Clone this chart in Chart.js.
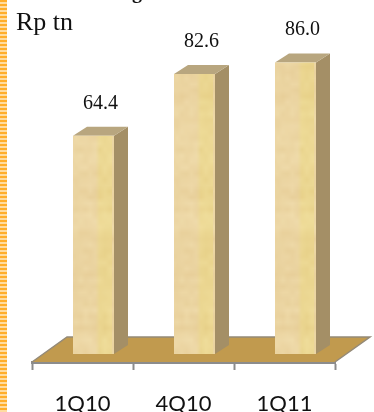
<!DOCTYPE html>
<html>
<head>
<meta charset="utf-8">
<title>Rp tn</title>
<script src="https://cdn.jsdelivr.net/npm/chart.js@4"></script>
<style>
html, body { margin: 0; padding: 0; width: 374px; height: 412px; overflow: hidden; background: #fff; }
#strip {
    position: absolute; left: 0; top: 0; width: 7px; height: 412px;
    background: repeating-linear-gradient(to bottom, #ffae2b 0, #ffae2b 2px, #ffdca0 2px, #ffdca0 4px);
}
canvas { position: absolute; left: 0; top: 0; }
</style>
</head>
<body>
<div id="strip"></div>
<canvas id="chart" width="374" height="440"></canvas>
<script>
const categories = ['1Q10', '4Q10', '1Q11'];
const values = [64.4, 82.6, 86.0];
const unitLabel = 'Rp tn';
const headingTail = 'g';

// 3D look: bars stand inset on the floor, with a receding side and top
const BAR_DX = 11, BAR_DY = -8;
const DEPTH_X = 14, DEPTH_Y = 9;
const FLOOR_DX = 35, FLOOR_DY = 25;

function hash(a, b) {
    const n = Math.sin(a * 127.1 + b * 311.7 + 0.5) * 43758.5453;
    return n - Math.floor(n);
}

// soft paper texture for the front faces: a coarse grid scaled up with
// smoothing, one category wide so the yellower band repeats on every bar
function paperTexture(ctx) {
    const grid = document.createElement('canvas');
    grid.width = 21;
    grid.height = 74;
    const g2 = grid.getContext('2d');
    for (let row = 0; row < grid.height; row++) {
        const rowTone = hash(row, 7);
        for (let col = 0; col < grid.width; col++) {
            const v = (hash(col, row) + rowTone) / 2;
            const band = col >= 18 ? 1 : 0;
            const r = 231 + Math.round(v * 9);
            const g = 206 + Math.round(v * 14) + band * 2;
            const b = 152 + Math.round(v * 20) - band * 16;
            g2.fillStyle = `rgb(${r},${g},${b})`;
            g2.fillRect(col, row, 1, 1);
        }
    }
    const tile = document.createElement('canvas');
    tile.width = 101;
    tile.height = 440;
    const t = tile.getContext('2d');
    t.imageSmoothingEnabled = true;
    t.drawImage(grid, 0, 0, tile.width, tile.height);
    return ctx.createPattern(tile, 'repeat');
}

const cubePlugin = {
    id: 'cube',
    beforeDatasetsDraw(chart) {
        const ctx = chart.ctx;
        const { left, right, bottom } = chart.chartArea;
        // floor
        ctx.save();
        ctx.beginPath();
        ctx.moveTo(left, bottom);
        ctx.lineTo(right, bottom);
        ctx.lineTo(right + FLOOR_DX, bottom - FLOOR_DY);
        ctx.lineTo(left + FLOOR_DX, bottom - FLOOR_DY);
        ctx.closePath();
        ctx.fillStyle = '#c19a4e';
        ctx.fill();
        ctx.strokeStyle = '#948a78';
        ctx.lineWidth = 1.5;
        ctx.beginPath();
        ctx.moveTo(left, bottom);
        ctx.lineTo(left + FLOOR_DX, bottom - FLOOR_DY);
        ctx.lineTo(right + FLOOR_DX, bottom - FLOOR_DY);
        ctx.lineTo(right, bottom);
        ctx.stroke();
        ctx.restore();
    },
    beforeDatasetDraw(chart) {
        const ctx = chart.ctx;
        ctx.save();
        ctx.translate(BAR_DX, BAR_DY);
        chart.getDatasetMeta(0).data.forEach(bar => {
            const l = bar.x - bar.width / 2, r = bar.x + bar.width / 2;
            const top = bar.y, base = bar.base;
            // side
            ctx.fillStyle = '#a48f66';
            ctx.beginPath();
            ctx.moveTo(r, top);
            ctx.lineTo(r + DEPTH_X, top - DEPTH_Y);
            ctx.lineTo(r + DEPTH_X, base - DEPTH_Y);
            ctx.lineTo(r, base);
            ctx.closePath();
            ctx.fill();
            // top
            ctx.fillStyle = '#b8a67f';
            ctx.beginPath();
            ctx.moveTo(l, top);
            ctx.lineTo(l + DEPTH_X, top - DEPTH_Y);
            ctx.lineTo(r + DEPTH_X, top - DEPTH_Y);
            ctx.lineTo(r, top);
            ctx.closePath();
            ctx.fill();
        });
    },
    afterDatasetDraw(chart) {
        chart.ctx.restore();
    },
    afterDatasetsDraw(chart) {
        const ctx = chart.ctx;
        ctx.save();
        ctx.fillStyle = '#111';
        ctx.textAlign = 'center';
        ctx.font = '20px "Liberation Serif"';
        chart.getDatasetMeta(0).data.forEach((bar, i) => {
            ctx.fillText(values[i].toFixed(1), bar.x + BAR_DX + DEPTH_X / 2, bar.y + BAR_DY - 27);
        });
        ctx.textAlign = 'left';
        ctx.font = '26px "Liberation Serif"';
        ctx.fillText(unitLabel, 16, 30);
        ctx.font = 'bold 20px "Liberation Serif"';
        ctx.fillText(headingTail, 132, -2);
        ctx.restore();
    }
};

const canvas = document.getElementById('chart');

new Chart(canvas, {
    type: 'bar',
    data: {
        labels: categories,
        datasets: [{
            data: values,
            backgroundColor: paperTexture(canvas.getContext('2d')),
            borderWidth: 0,
            barPercentage: 0.406,
            categoryPercentage: 1
        }]
    },
    options: {
        responsive: false,
        animation: false,
        layout: { padding: { left: 32, right: 39, top: 23, bottom: 0 } },
        plugins: { legend: { display: false }, tooltip: { enabled: false } },
        scales: {
            x: {
                afterFit: scale => { scale.height = 78; },
                border: { color: '#8c8c8c', width: 3 },
                grid: { drawOnChartArea: false, color: '#8c8c8c', tickLength: 8, tickWidth: 2 },
                ticks: { color: '#111', padding: 21, maxRotation: 0, font: { family: 'Lato', size: 22 } }
            },
            y: { display: false, min: 0, max: 100 }
        }
    },
    plugins: [cubePlugin]
});
</script>
</body>
</html>
